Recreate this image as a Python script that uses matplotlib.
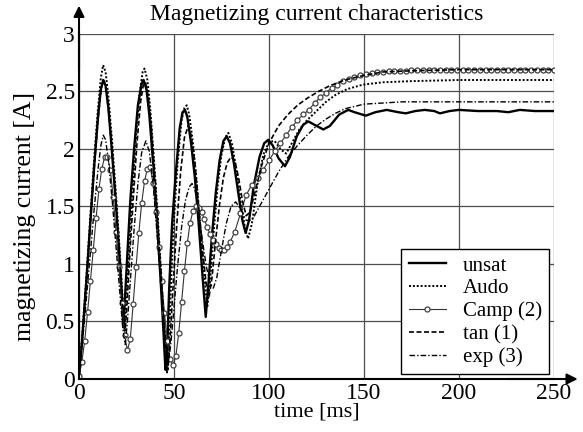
import matplotlib
matplotlib.use("Agg")
import matplotlib.pyplot as plt

plt.rcParams['font.family'] = ['Liberation Serif', 'DejaVu Serif']

# unsat (solid)
t_unsat = [0, 1, 2, 4, 6, 8, 10, 11.5, 12.8, 14, 15.5, 17, 19, 21, 22.5, 23.3, 24.2, 25.5, 27, 29,
           31, 33, 34, 35.5, 37, 39, 41, 43, 44.5, 45.5, 46.3, 47.5, 49, 51, 53, 54.5, 55.8, 57, 59, 61,
           63, 65, 66.7, 68, 70, 72, 74, 76, 77.7, 79.5, 81.5, 84, 86, 87.7, 89.5, 92, 95, 97.5, 99.6, 102,
           105, 108.4, 111, 114.6, 118, 120.7, 124, 128.6, 132, 137, 141.7, 145, 151, 156, 162, 168, 172, 177, 182, 187,
           190, 195, 200, 210, 220, 226, 232, 240, 250]
i_unsat = [0.0, 0.2, 0.42, 0.88, 1.37, 1.85, 2.28, 2.52, 2.6, 2.55, 2.35, 2.05, 1.62, 1.15, 0.75, 0.45, 0.7, 1.1, 1.55, 2.0,
           2.38, 2.57, 2.6, 2.52, 2.3, 1.88, 1.38, 0.85, 0.4, 0.08, 0.2, 0.8, 1.35, 1.8, 2.18, 2.32, 2.34, 2.28, 2.05, 1.75,
           1.35, 0.9, 0.54, 0.8, 1.25, 1.62, 1.9, 2.07, 2.11, 2.05, 1.88, 1.6, 1.38, 1.27, 1.38, 1.68, 1.93, 2.05, 2.08, 2.03,
           1.92, 1.85, 1.93, 2.11, 2.21, 2.24, 2.21, 2.17, 2.2, 2.3, 2.34, 2.32, 2.29, 2.32, 2.34, 2.32, 2.31, 2.33, 2.34, 2.33,
           2.31, 2.33, 2.34, 2.33, 2.33, 2.32, 2.34, 2.33, 2.33]

# Audo (dotted)
t_audo = [0, 2, 4, 6, 8, 10, 11.5, 12.7, 14, 15.5, 17.5, 19.5, 21.5, 23, 24, 25, 26.5, 28, 30, 32,
          33.5, 34.5, 36, 37.5, 39.5, 41.5, 43.5, 45, 46.3, 47.3, 48.5, 50, 52, 54, 55.5, 56.7, 58, 60, 62, 64,
          66, 67.5, 69, 71, 73, 75, 77, 78.6, 80.5, 82.5, 85, 87.5, 89, 91, 94, 97, 100, 103, 106, 109,
          112, 116, 120, 125, 130, 135, 141, 149.5, 160, 175, 200, 250]
i_audo = [0.0, 0.45, 0.92, 1.42, 1.92, 2.35, 2.62, 2.73, 2.67, 2.45, 2.05, 1.6, 1.1, 0.7, 0.47, 0.72, 1.15, 1.6, 2.1, 2.5,
          2.67, 2.7, 2.6, 2.35, 1.9, 1.4, 0.85, 0.4, 0.05, 0.3, 0.85, 1.4, 1.9, 2.25, 2.36, 2.38, 2.3, 2.05, 1.7, 1.3,
          0.9, 0.62, 0.85, 1.3, 1.68, 1.95, 2.1, 2.14, 2.05, 1.85, 1.55, 1.3, 1.22, 1.35, 1.7, 1.95, 2.06, 2.07, 2.0, 1.96,
          2.05, 2.17, 2.25, 2.33, 2.41, 2.47, 2.52, 2.56, 2.58, 2.59, 2.6, 2.6]

# Camp (2) (solid with circles)
t_camp = [0, 1.5, 3, 4.5, 6, 7.5, 9, 10.5, 12, 13.5, 15, 16.5, 18, 19.5, 21, 22.5, 24, 25.5, 27, 28.5,
          30, 31.5, 33, 34.5, 36, 37.5, 39, 40.5, 42, 43.5, 45, 46.5, 48, 49.5, 51, 52.5, 54, 55.5, 57, 58.5,
          60, 61.5, 63, 64.5, 66, 67.5, 69, 70.5, 72, 73.5, 75, 76.5, 78, 79.5,
          82, 85, 88, 91, 94, 97, 100, 103, 106, 109, 112, 115, 118, 121, 124, 127, 130, 133, 136, 139,
          142, 145, 148, 151, 154, 157, 160, 163, 166, 169, 172, 175, 178, 181, 184, 187, 190, 193, 196, 199,
          202, 205, 208, 211, 214, 217, 220, 223, 226, 229, 232, 235, 238, 241, 244, 247, 250]
i_camp = [0.03, 0.15, 0.33, 0.58, 0.85, 1.12, 1.4, 1.65, 1.83, 1.93, 1.93, 1.82, 1.58, 1.28, 0.97, 0.66, 0.38, 0.25, 0.35, 0.65,
          0.97, 1.27, 1.53, 1.72, 1.83, 1.84, 1.7, 1.45, 1.15, 0.85, 0.57, 0.33, 0.17, 0.12, 0.2, 0.4, 0.67, 0.94, 1.18, 1.36,
          1.46, 1.5, 1.49, 1.45, 1.39, 1.32, 1.26, 1.21, 1.17, 1.14, 1.12, 1.12, 1.15, 1.19,
          1.28, 1.44, 1.6, 1.69, 1.75, 1.82, 1.9, 1.98, 2.05, 2.12, 2.19, 2.25, 2.3, 2.34, 2.4, 2.45, 2.49, 2.53, 2.56, 2.59,
          2.61, 2.63, 2.64, 2.65, 2.66, 2.67, 2.67, 2.68, 2.68, 2.68, 2.68, 2.69, 2.69, 2.69, 2.69, 2.69, 2.69, 2.69, 2.69, 2.69,
          2.69, 2.69, 2.69, 2.69, 2.69, 2.69, 2.69, 2.69, 2.69, 2.69, 2.69, 2.69, 2.69, 2.69, 2.69, 2.69, 2.69]

# tan (1) (dashed)
t_tan = [0, 2, 4, 6, 8, 10, 11.5, 12.7, 14, 15.5, 17.5, 19.5, 21.5, 23, 24.3, 25.3, 26.8, 28.5, 30.5, 32.5,
         34, 35, 36.5, 38, 40, 42, 44, 45.5, 46.8, 48, 49.5, 51.5, 53.5, 55.5, 57.5, 59, 61, 63, 65, 67,
         68.5, 70, 72, 74, 76, 78, 80, 82, 84, 86, 88, 90, 93, 96, 100, 105, 110, 115, 120, 126,
         132, 140, 150, 160, 175, 200, 250]
i_tan = [0.0, 0.42, 0.88, 1.36, 1.83, 2.25, 2.5, 2.6, 2.55, 2.35, 1.95, 1.5, 1.0, 0.62, 0.42, 0.65, 1.1, 1.55, 2.05, 2.42,
         2.57, 2.58, 2.45, 2.2, 1.75, 1.22, 0.7, 0.3, 0.08, 0.35, 0.8, 1.35, 1.8, 2.1, 2.2, 2.12, 1.88, 1.5, 1.12, 0.82,
         0.72, 0.88, 1.22, 1.52, 1.75, 1.88, 1.93, 1.9, 1.75, 1.55, 1.42, 1.45, 1.65, 1.85, 2.05, 2.2, 2.3, 2.38, 2.44, 2.5,
         2.55, 2.6, 2.64, 2.67, 2.68, 2.69, 2.69]

# exp (3) (dash-dot)
t_exp = [0, 2, 4, 6, 8, 10, 11.5, 12.8, 14, 15.5, 17.5, 19.5, 21.5, 23, 24.3, 25.5, 27, 29, 31, 33,
         35.2, 37, 39, 41, 43, 45, 46.8, 48.3, 50, 52, 54, 56, 58, 59.5, 61, 63, 65, 67, 69, 70.7,
         72.5, 75, 77.5, 80, 82.5, 85, 88, 91, 95, 100, 105, 110, 115, 120, 125, 130, 135, 140, 145, 150,
         160, 170, 200, 250]
i_exp = [0.0, 0.35, 0.72, 1.1, 1.48, 1.82, 2.03, 2.12, 2.08, 1.9, 1.55, 1.15, 0.75, 0.45, 0.3, 0.5, 0.85, 1.3, 1.7, 1.97,
         2.07, 1.98, 1.7, 1.28, 0.85, 0.45, 0.12, 0.3, 0.62, 1.0, 1.32, 1.55, 1.67, 1.7, 1.65, 1.45, 1.2, 0.98, 0.83, 0.79,
         0.88, 1.12, 1.35, 1.5, 1.54, 1.48, 1.38, 1.38, 1.5, 1.65, 1.8, 1.93, 2.03, 2.12, 2.2, 2.26, 2.31, 2.35, 2.37, 2.39,
         2.4, 2.41, 2.41, 2.41]

x_ticks = [0, 50, 100, 150, 200, 250]
y_ticks = [0, 0.5, 1, 1.5, 2, 2.5, 3]
y_tick_labels = ['0', '0.5', '1', '1.5', '2', '2.5', '3']

fig = plt.figure(figsize=(5.83, 4.32), dpi=100)
ax = fig.add_axes([0.1355, 0.1227, 0.8147, 0.7986])

ax.plot(t_unsat, i_unsat, color='k', lw=1.7, ls='-', label='unsat')
ax.plot(t_audo, i_audo, color='k', lw=1.4, ls=(0, (1, 1)), label='Audo')
ax.plot(t_camp, i_camp, color='0.2', lw=0.8, ls='-', marker='o', ms=3.6,
        mfc='white', mec='0.25', mew=0.9, label='Camp (2)')
ax.plot(t_tan, i_tan, color='k', lw=1.2, ls=(0, (3, 1.5)), label='tan (1)')
ax.plot(t_exp, i_exp, color='k', lw=1.0, ls=(0, (4, 1.5, 1, 1.5)), label='exp (3)')

ax.set_xlim(0, 250)
ax.set_ylim(0, 3)
ax.set_xticks(x_ticks)
ax.set_yticks(y_ticks)
ax.set_yticklabels(y_tick_labels)
ax.tick_params(length=0, labelsize=17, pad=3)
ax.grid(True, color='0.3', lw=0.9)

for s in ['top', 'right']:
    ax.spines[s].set_visible(False)
for s in ['left', 'bottom']:
    ax.spines[s].set_linewidth(1.5)

# arrow heads on the axes
ax.annotate('', xy=(1.05, 0), xytext=(0.9, 0), xycoords='axes fraction',
            arrowprops=dict(arrowstyle='-|>', lw=1.5, color='k', mutation_scale=16,
                            shrinkA=0, shrinkB=0), annotation_clip=False)
ax.annotate('', xy=(0, 1.082), xytext=(0, 0.9), xycoords='axes fraction',
            arrowprops=dict(arrowstyle='-|>', lw=1.5, color='k', mutation_scale=16,
                            shrinkA=0, shrinkB=0), annotation_clip=False)

ax.set_title('Magnetizing current characteristics', fontsize=17, pad=10)
ax.set_xlabel('time [ms]', fontsize=16, labelpad=-1)
ax.set_ylabel('magnetizing current [A]', fontsize=18.5)
ax.yaxis.set_label_coords(-0.09, 0.472)

leg = ax.legend(loc='lower right', bbox_to_anchor=(0.99, 0.014), fontsize=15,
                frameon=True, fancybox=False, edgecolor='k', framealpha=1,
                handlelength=1.8, labelspacing=0.15, borderaxespad=0, borderpad=0.35,
                handletextpad=0.8)
leg.get_frame().set_linewidth(1.0)

fig.savefig('out.png', dpi=100)
